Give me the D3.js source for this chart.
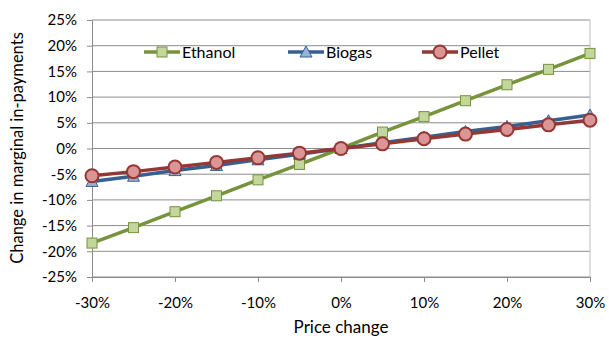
<!DOCTYPE html>
<html>
<head>
<meta charset="utf-8">
<script src="https://cdn.jsdelivr.net/npm/d3@7"></script>
<style>
  body { margin:0; background:#fff; }
  svg text { font-family: "Lato", "Open Sans", sans-serif; fill:#000; }
</style>
</head>
<body>
<svg id="chart" width="609" height="338"></svg>
<script>
// datos
const priceChange = [-30, -25, -20, -15, -10, -5, 0, 5, 10, 15, 20, 25, 30];
const ethanol = [-18.4, -15.4, -12.3, -9.2, -6.1, -3.1, 0, 3.2, 6.2, 9.3, 12.4, 15.4, 18.5];
const biogas  = [-6.4, -5.4, -4.3, -3.3, -2.2, -1.1, 0, 1.1, 2.2, 3.3, 4.3, 5.4, 6.5];
const pellet  = [-5.3, -4.5, -3.6, -2.7, -1.8, -0.9, 0, 0.9, 1.9, 2.8, 3.7, 4.6, 5.5];
const yTicks = [-25, -20, -15, -10, -5, 0, 5, 10, 15, 20, 25];
const xTicks = [-30, -20, -10, 0, 10, 20, 30];

const series = [
  { name:"Ethanol", values:ethanol, line:"#77933C", fill:"#C3D69B", marker:"square" },
  { name:"Biogas",  values:biogas,  line:"#376092", fill:"#95B3D7", marker:"triangle" },
  { name:"Pellet",  values:pellet,  line:"#953735", fill:"#D99694", marker:"circle" }
];

const svg = d3.select("#chart");
const L = 92, R = 590, T = 20, B = 277;

const x = d3.scaleLinear().domain([-30, 30]).range([L, R]);
const y = d3.scaleLinear().domain([-25, 25]).range([B, T]);

// rejilla horizontal
svg.append("g")
  .selectAll("line")
  .data(yTicks)
  .enter().append("line")
  .attr("x1", L).attr("x2", R)
  .attr("y1", d => y(d)).attr("y2", d => y(d))
  .attr("stroke", "#8c8c8c").attr("stroke-width", 1);

// borde derecho
svg.append("line")
  .attr("x1", R).attr("x2", R).attr("y1", T).attr("y2", B)
  .attr("stroke", "#bfbfbf").attr("stroke-width", 1);

// eje Y
const yAxis = svg.append("g")
  .attr("transform", `translate(${L},0)`)
  .call(d3.axisLeft(y).tickValues(yTicks).tickSize(5).tickPadding(10).tickFormat(d => d + "%"));
yAxis.select(".domain").attr("stroke", "#8c8c8c");
yAxis.selectAll(".tick line").attr("stroke", "#8c8c8c");
yAxis.selectAll("text").style("font-size", "15px");

// eje X
const xAxis = svg.append("g")
  .attr("transform", `translate(0,${B})`)
  .call(d3.axisBottom(x).tickValues(xTicks).tickSize(5).tickPadding(15).tickFormat(d => d + "%"));
xAxis.select(".domain").attr("stroke", "#8c8c8c");
xAxis.selectAll(".tick line").attr("stroke", "#8c8c8c");
xAxis.selectAll("text").style("font-size", "15px");

// títulos
svg.append("text")
  .attr("x", 341).attr("y", 333)
  .attr("text-anchor", "middle")
  .style("font-size", "17px")
  .text("Price change");

svg.append("text")
  .attr("transform", "translate(23,148) rotate(-90)")
  .attr("text-anchor", "middle")
  .style("font-size", "16.5px")
  .text("Change in marginal in-payments");

function drawMarker(g, type, cx, cy, s){
  if (type === "square"){
    g.append("rect")
      .attr("x", cx - 5).attr("y", cy - 5).attr("width", 10).attr("height", 10)
      .attr("fill", s.fill).attr("stroke", s.line).attr("stroke-width", 1);
  } else if (type === "triangle"){
    g.append("path")
      .attr("d", `M${cx},${cy-6}L${cx+6},${cy+5}L${cx-6},${cy+5}Z`)
      .attr("fill", s.fill).attr("stroke", s.line).attr("stroke-width", 1);
  } else {
    g.append("circle")
      .attr("cx", cx).attr("cy", cy).attr("r", 6.5)
      .attr("fill", s.fill).attr("stroke", s.line).attr("stroke-width", 2);
  }
}

const line = d3.line().x((d, i) => x(priceChange[i])).y(d => y(d));

// Ethanol primero, luego Biogas, Pellet encima
series.forEach(s => {
  const g = svg.append("g");
  g.append("path")
    .attr("d", line(s.values))
    .attr("fill", "none")
    .attr("stroke", s.line)
    .attr("stroke-width", 3.5);
  s.values.forEach((v, i) => drawMarker(g, s.marker, x(priceChange[i]), y(v), s));
});

// leyenda
const legendX = [144, 288, 422];
series.forEach((s, i) => {
  const g = svg.append("g");
  const lx = legendX[i], ly = 52;
  g.append("line")
    .attr("x1", lx).attr("x2", lx + 36).attr("y1", ly).attr("y2", ly)
    .attr("stroke", s.line).attr("stroke-width", 3.5);
  drawMarker(g, s.marker, lx + 18, ly, s);
  g.append("text")
    .attr("x", lx + 38).attr("y", ly + 5.5)
    .style("font-size", "16px")
    .text(s.name);
});
</script>
</body>
</html>
